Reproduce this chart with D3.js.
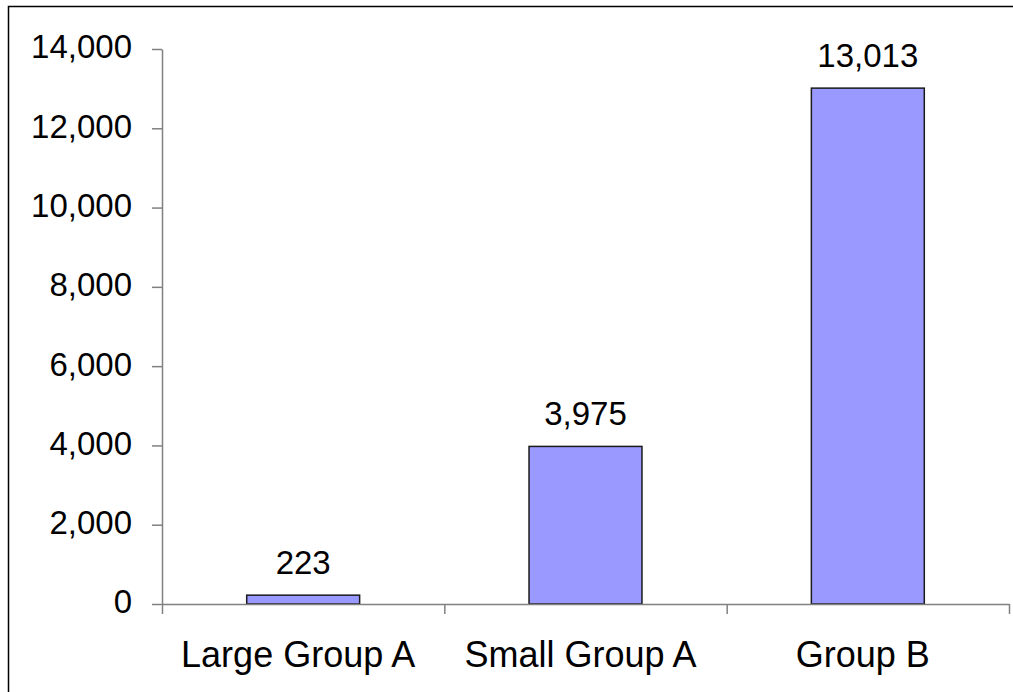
<!DOCTYPE html>
<html lang="en">
<head>
  <meta charset="UTF-8">
  <title>Group counts</title>
  <script src="https://d3js.org/d3.v7.min.js"></script>
  <style>
    body { margin: 0; padding: 0; background: #fff; }
    svg { display: block; font-family: "Liberation Sans", Arial, sans-serif; }
  </style>
</head>
<body>
  <svg width="1013" height="692"></svg>
  <script>
    // dati
    const categories = ["Large Group A", "Small Group A", "Group B"];
    const values = [223, 3975, 13013];
    const yTicks = [0, 2000, 4000, 6000, 8000, 10000, 12000, 14000];

    const svg = d3.select("svg");
    const width = +svg.attr("width");
    const height = +svg.attr("height");

    // cornice esterna (tagliata a destra e in basso come nell'originale)
    svg.append("rect")
      .attr("x", 8.5).attr("y", 6.5)
      .attr("width", width + 20).attr("height", height + 20)
      .attr("fill", "none")
      .attr("stroke", "#000")
      .attr("stroke-width", 1.5);

    const plot = {left: 162, right: 1009, top: 49, bottom: 604};

    const xScale = d3.scaleBand()
      .domain(categories)
      .range([plot.left, plot.right])
      .paddingInner(0.6)
      .paddingOuter(0.3);

    // scala per i tick di separazione tra categorie
    const xEdges = d3.scaleLinear().domain([0, categories.length]).range([plot.left, plot.right]);

    const yScale = d3.scaleLinear()
      .domain([0, d3.max(yTicks)])
      .range([plot.bottom, plot.top]);

    // asse y
    const yAxis = svg.append("g")
      .attr("transform", `translate(${plot.left},0)`)
      .call(d3.axisLeft(yScale).tickValues(yTicks).tickSize(10).tickSizeOuter(0).tickFormat(d3.format(",")));
    yAxis.selectAll("path, line").attr("stroke", "#808080").attr("stroke-width", 1.5);
    yAxis.selectAll("text")
      .attr("x", -30)
      .attr("dy", "0.27em")
      .attr("fill", "#000")
      .style("font-size", "33px");

    // barre
    svg.append("g").selectAll("rect")
      .data(values)
      .enter()
      .append("rect")
      .attr("x", (d, i) => xScale(categories[i]))
      .attr("y", d => yScale(d))
      .attr("width", xScale.bandwidth())
      .attr("height", d => yScale(0) - yScale(d))
      .attr("fill", "#9999FF")
      .attr("stroke", "#1a1a1a")
      .attr("stroke-width", 1.5);

    // asse x: linea e tick ai bordi delle categorie
    const xAxis = svg.append("g")
      .attr("transform", `translate(0,${plot.bottom})`)
      .call(d3.axisBottom(xEdges).tickValues(d3.range(categories.length + 1)).tickSize(10).tickSizeOuter(0).tickFormat(""));
    xAxis.selectAll("path, line").attr("stroke", "#808080").attr("stroke-width", 1.5);

    // etichette categorie
    svg.append("g").selectAll("text")
      .data(categories)
      .enter()
      .append("text")
      .attr("x", d => xScale(d) + xScale.bandwidth() / 2 - 5)
      .attr("y", 667)
      .attr("text-anchor", "middle")
      .style("font-size", "36px")
      .text(d => d);

    // etichette valori
    svg.append("g").selectAll("text")
      .data(values)
      .enter()
      .append("text")
      .attr("x", (d, i) => xScale(categories[i]) + xScale.bandwidth() / 2)
      .attr("y", d => yScale(d) - 21)
      .attr("text-anchor", "middle")
      .style("font-size", "33px")
      .text(d => d3.format(",")(d));
  </script>
</body>
</html>
